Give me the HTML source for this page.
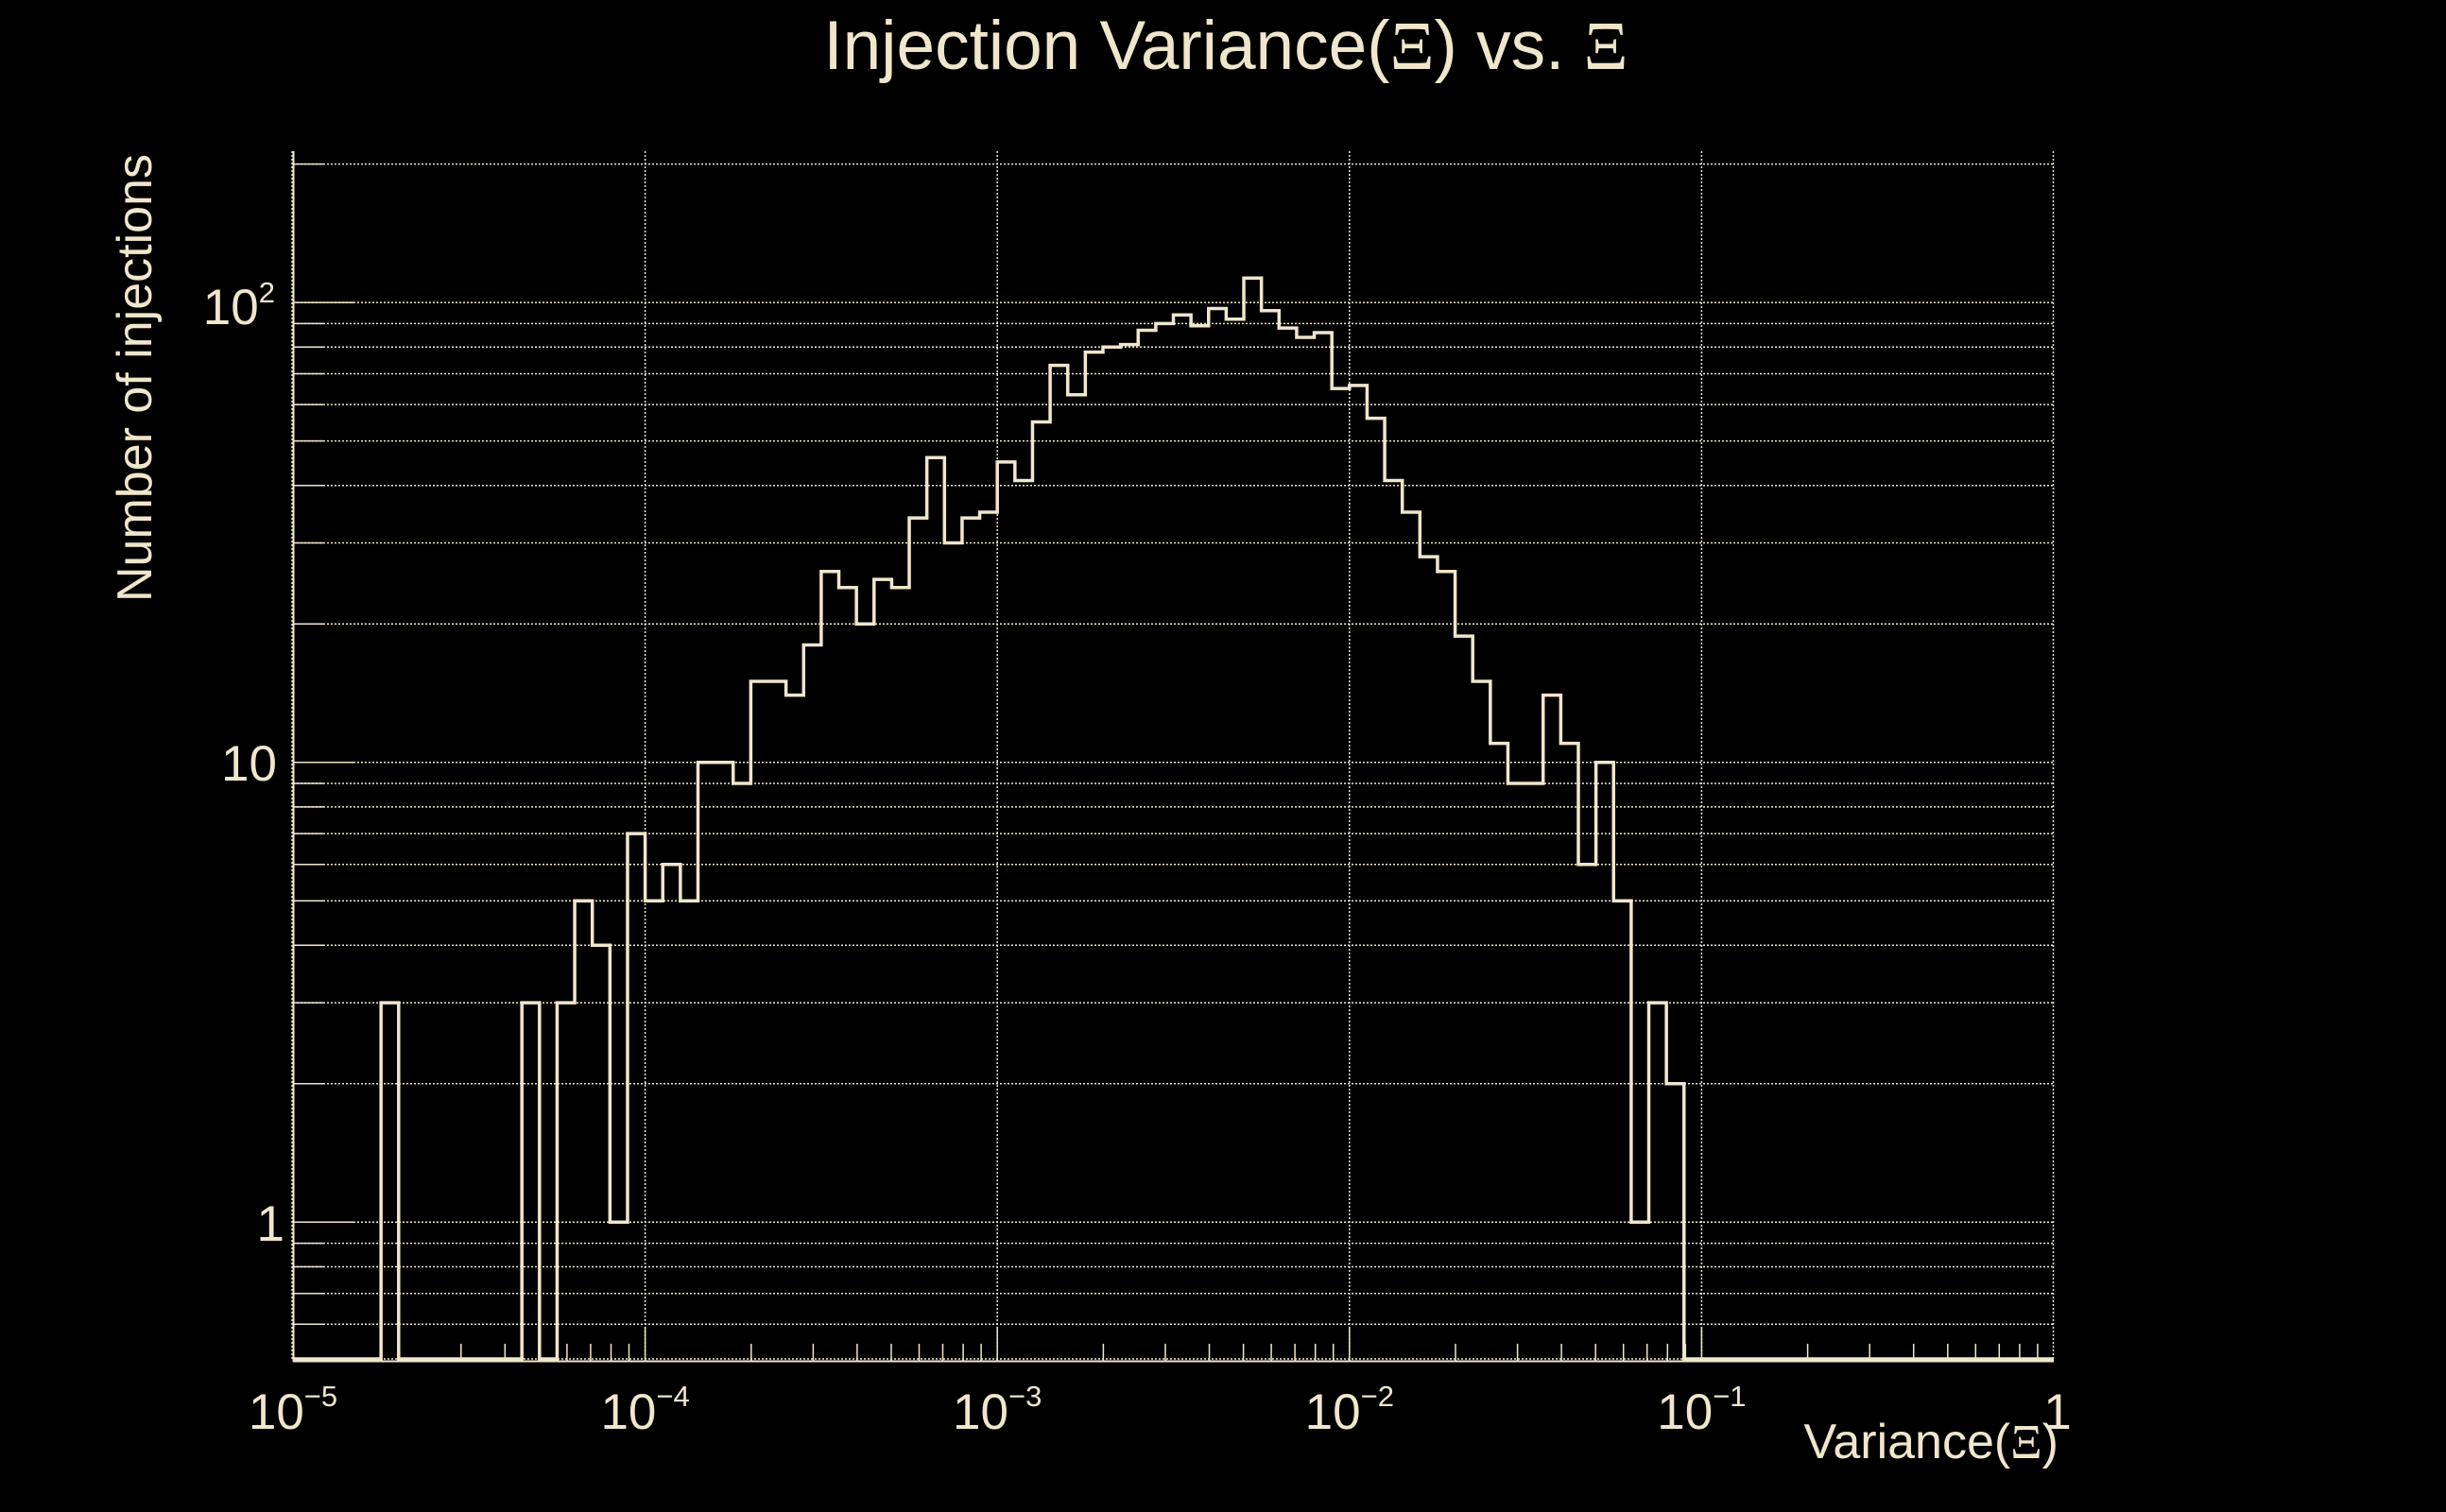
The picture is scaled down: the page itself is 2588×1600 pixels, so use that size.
<!DOCTYPE html>
<html>
<head>
<meta charset="utf-8">
<style>
html,body{margin:0;padding:0;background:#000;}
svg{display:block;}
text{font-family:"Liberation Sans",Arial,sans-serif;fill:#f0e6cc;}
.xi{font-family:"Liberation Serif","DejaVu Serif",serif;}
</style>
</head>
<body>
<svg width="2588" height="1600" viewBox="0 0 2588 1600" xmlns="http://www.w3.org/2000/svg">
<rect x="0" y="0" width="2588" height="1600" fill="#000"/>
<g stroke="#f0e6cc" stroke-width="1.5" stroke-dasharray="2 2" fill="none">
<line x1="310" y1="1401.2" x2="2173" y2="1401.2"/>
<line x1="310" y1="1368.7" x2="2173" y2="1368.7"/>
<line x1="310" y1="1340.5" x2="2173" y2="1340.5"/>
<line x1="310" y1="1315.6" x2="2173" y2="1315.6"/>
<line x1="310" y1="1293.3" x2="2173" y2="1293.3"/>
<line x1="310" y1="1146.8" x2="2173" y2="1146.8"/>
<line x1="310" y1="1061.1" x2="2173" y2="1061.1"/>
<line x1="310" y1="1000.3" x2="2173" y2="1000.3"/>
<line x1="310" y1="953.2" x2="2173" y2="953.2"/>
<line x1="310" y1="914.7" x2="2173" y2="914.7"/>
<line x1="310" y1="882.1" x2="2173" y2="882.1"/>
<line x1="310" y1="853.9" x2="2173" y2="853.9"/>
<line x1="310" y1="829.0" x2="2173" y2="829.0"/>
<line x1="310" y1="806.7" x2="2173" y2="806.7"/>
<line x1="310" y1="660.2" x2="2173" y2="660.2"/>
<line x1="310" y1="574.5" x2="2173" y2="574.5"/>
<line x1="310" y1="513.7" x2="2173" y2="513.7"/>
<line x1="310" y1="466.6" x2="2173" y2="466.6"/>
<line x1="310" y1="428.1" x2="2173" y2="428.1"/>
<line x1="310" y1="395.5" x2="2173" y2="395.5"/>
<line x1="310" y1="367.3" x2="2173" y2="367.3"/>
<line x1="310" y1="342.4" x2="2173" y2="342.4"/>
<line x1="310" y1="320.1" x2="2173" y2="320.1"/>
<line x1="310" y1="173.6" x2="2173" y2="173.6"/>
<line x1="310" y1="1438" x2="2173" y2="1438"/>
<line x1="309" y1="160" x2="309" y2="1440"/>
<line x1="682.6" y1="160" x2="682.6" y2="1440"/>
<line x1="1055.2" y1="160" x2="1055.2" y2="1440"/>
<line x1="1427.8" y1="160" x2="1427.8" y2="1440"/>
<line x1="1800.4" y1="160" x2="1800.4" y2="1440"/>
<line x1="2172.5" y1="160" x2="2172.5" y2="1440"/>
</g>
<g stroke="#f0e6cc" stroke-width="2" fill="none">
<line x1="310.5" y1="160" x2="310.5" y2="1441"/>
<line x1="310" y1="1440.5" x2="2173" y2="1440.5"/>
</g>
<g stroke="#f0e6cc" stroke-width="1.5" fill="none">
<line x1="310" y1="1401.2" x2="342" y2="1401.2"/>
<line x1="310" y1="1368.7" x2="342" y2="1368.7"/>
<line x1="310" y1="1340.5" x2="342" y2="1340.5"/>
<line x1="310" y1="1315.6" x2="342" y2="1315.6"/>
<line x1="310" y1="1293.3" x2="374" y2="1293.3"/>
<line x1="310" y1="1146.8" x2="342" y2="1146.8"/>
<line x1="310" y1="1061.1" x2="342" y2="1061.1"/>
<line x1="310" y1="1000.3" x2="342" y2="1000.3"/>
<line x1="310" y1="953.2" x2="342" y2="953.2"/>
<line x1="310" y1="914.7" x2="342" y2="914.7"/>
<line x1="310" y1="882.1" x2="342" y2="882.1"/>
<line x1="310" y1="853.9" x2="342" y2="853.9"/>
<line x1="310" y1="829.0" x2="342" y2="829.0"/>
<line x1="310" y1="806.7" x2="374" y2="806.7"/>
<line x1="310" y1="660.2" x2="342" y2="660.2"/>
<line x1="310" y1="574.5" x2="342" y2="574.5"/>
<line x1="310" y1="513.7" x2="342" y2="513.7"/>
<line x1="310" y1="466.6" x2="342" y2="466.6"/>
<line x1="310" y1="428.1" x2="342" y2="428.1"/>
<line x1="310" y1="395.5" x2="342" y2="395.5"/>
<line x1="310" y1="367.3" x2="342" y2="367.3"/>
<line x1="310" y1="342.4" x2="342" y2="342.4"/>
<line x1="310" y1="320.1" x2="374" y2="320.1"/>
<line x1="310" y1="173.6" x2="342" y2="173.6"/>
</g>
<g stroke="#f0e6cc" stroke-width="1.5" fill="none">
<line x1="682.6" y1="1404" x2="682.6" y2="1440"/>
<line x1="1055.2" y1="1404" x2="1055.2" y2="1440"/>
<line x1="1427.8" y1="1404" x2="1427.8" y2="1440"/>
<line x1="1800.4" y1="1404" x2="1800.4" y2="1440"/>
<line x1="422.2" y1="1422" x2="422.2" y2="1440"/>
<line x1="487.8" y1="1422" x2="487.8" y2="1440"/>
<line x1="534.3" y1="1422" x2="534.3" y2="1440"/>
<line x1="570.4" y1="1422" x2="570.4" y2="1440"/>
<line x1="599.9" y1="1422" x2="599.9" y2="1440"/>
<line x1="624.9" y1="1422" x2="624.9" y2="1440"/>
<line x1="646.5" y1="1422" x2="646.5" y2="1440"/>
<line x1="665.5" y1="1422" x2="665.5" y2="1440"/>
<line x1="794.8" y1="1422" x2="794.8" y2="1440"/>
<line x1="860.4" y1="1422" x2="860.4" y2="1440"/>
<line x1="906.9" y1="1422" x2="906.9" y2="1440"/>
<line x1="943.0" y1="1422" x2="943.0" y2="1440"/>
<line x1="972.5" y1="1422" x2="972.5" y2="1440"/>
<line x1="997.5" y1="1422" x2="997.5" y2="1440"/>
<line x1="1019.1" y1="1422" x2="1019.1" y2="1440"/>
<line x1="1038.1" y1="1422" x2="1038.1" y2="1440"/>
<line x1="1167.4" y1="1422" x2="1167.4" y2="1440"/>
<line x1="1233.0" y1="1422" x2="1233.0" y2="1440"/>
<line x1="1279.5" y1="1422" x2="1279.5" y2="1440"/>
<line x1="1315.6" y1="1422" x2="1315.6" y2="1440"/>
<line x1="1345.1" y1="1422" x2="1345.1" y2="1440"/>
<line x1="1370.1" y1="1422" x2="1370.1" y2="1440"/>
<line x1="1391.7" y1="1422" x2="1391.7" y2="1440"/>
<line x1="1410.7" y1="1422" x2="1410.7" y2="1440"/>
<line x1="1540.0" y1="1422" x2="1540.0" y2="1440"/>
<line x1="1605.6" y1="1422" x2="1605.6" y2="1440"/>
<line x1="1652.1" y1="1422" x2="1652.1" y2="1440"/>
<line x1="1688.2" y1="1422" x2="1688.2" y2="1440"/>
<line x1="1717.7" y1="1422" x2="1717.7" y2="1440"/>
<line x1="1742.7" y1="1422" x2="1742.7" y2="1440"/>
<line x1="1764.3" y1="1422" x2="1764.3" y2="1440"/>
<line x1="1783.3" y1="1422" x2="1783.3" y2="1440"/>
<line x1="1912.6" y1="1422" x2="1912.6" y2="1440"/>
<line x1="1978.2" y1="1422" x2="1978.2" y2="1440"/>
<line x1="2024.7" y1="1422" x2="2024.7" y2="1440"/>
<line x1="2060.8" y1="1422" x2="2060.8" y2="1440"/>
<line x1="2090.3" y1="1422" x2="2090.3" y2="1440"/>
<line x1="2115.3" y1="1422" x2="2115.3" y2="1440"/>
<line x1="2136.9" y1="1422" x2="2136.9" y2="1440"/>
<line x1="2155.9" y1="1422" x2="2155.9" y2="1440"/>
</g>
<path fill="none" stroke="#f0e6cc" stroke-width="3.5" stroke-linejoin="miter" d="M310,1438 H403.15 V1061.1 H421.78 V1438 H552.19 V1061.1 H570.82 V1438 H589.45 V1061.1 H608.08 V953.2 H626.71 V1000.3 H645.34 V1293.3 H663.97 V882.1 H682.6 V953.2 H701.23 V914.7 H719.86 V953.2 H738.49 V806.7 H775.75 V829.0 H794.38 V721.0 H831.64 V735.6 H850.27 V682.5 H868.9 V604.8 H887.53 V621.7 H906.16 V660.2 H924.79 V613.1 H943.42 V621.7 H962.05 V548.1 H980.68 V484.2 H999.31 V574.5 H1017.94 V548.1 H1036.57 V542.0 H1055.2 V488.9 H1073.83 V508.5 H1092.46 V446.5 H1111.09 V386.6 H1129.72 V417.7 H1148.35 V372.6 H1166.98 V367.3 H1185.61 V364.6 H1204.24 V349.5 H1222.87 V342.4 H1241.5 V333.2 H1260.13 V344.7 H1278.76 V326.5 H1297.39 V337.7 H1316.02 V294.3 H1334.65 V328.7 H1353.28 V347.1 H1371.91 V357.0 H1390.54 V352.0 H1409.17 V411.1 H1427.8 V407.9 H1446.43 V442.6 H1465.06 V508.5 H1483.69 V542.0 H1502.32 V589.1 H1520.95 V604.8 H1539.58 V673.1 H1558.21 V721.0 H1576.84 V786.6 H1595.47 V829.0 H1632.73 V735.6 H1651.36 V786.6 H1669.99 V914.7 H1688.62 V806.7 H1707.25 V953.2 H1725.88 V1293.3 H1744.51 V1061.1 H1763.14 V1146.8 H1781.77 V1438 H2173"/>
<text x="1297" y="73" font-size="73" text-anchor="middle">Injection Variance(<tspan class="xi">Ξ</tspan>) vs. <tspan class="xi">Ξ</tspan></text>
<text x="291" y="343" font-size="53" text-anchor="end">10<tspan font-size="31" dy="-23">2</tspan></text>
<text x="293" y="826" font-size="53" text-anchor="end">10</text>
<text x="301" y="1313" font-size="53" text-anchor="end">1</text>
<text x="310" y="1512" font-size="53" text-anchor="middle">10<tspan font-size="31" dy="-24">−5</tspan></text>
<text x="682.6" y="1512" font-size="53" text-anchor="middle">10<tspan font-size="31" dy="-24">−4</tspan></text>
<text x="1055.2" y="1512" font-size="53" text-anchor="middle">10<tspan font-size="31" dy="-24">−3</tspan></text>
<text x="1427.8" y="1512" font-size="53" text-anchor="middle">10<tspan font-size="31" dy="-24">−2</tspan></text>
<text x="1800.4" y="1512" font-size="53" text-anchor="middle">10<tspan font-size="31" dy="-24">−1</tspan></text>
<text x="2177" y="1512" font-size="53" text-anchor="middle">1</text>
<text x="2178" y="1543" font-size="52" text-anchor="end">Variance(<tspan class="xi">Ξ</tspan>)</text>
<text transform="translate(160,163) rotate(-90)" font-size="52" text-anchor="end">Number of injections</text>
</svg>
</body>
</html>
